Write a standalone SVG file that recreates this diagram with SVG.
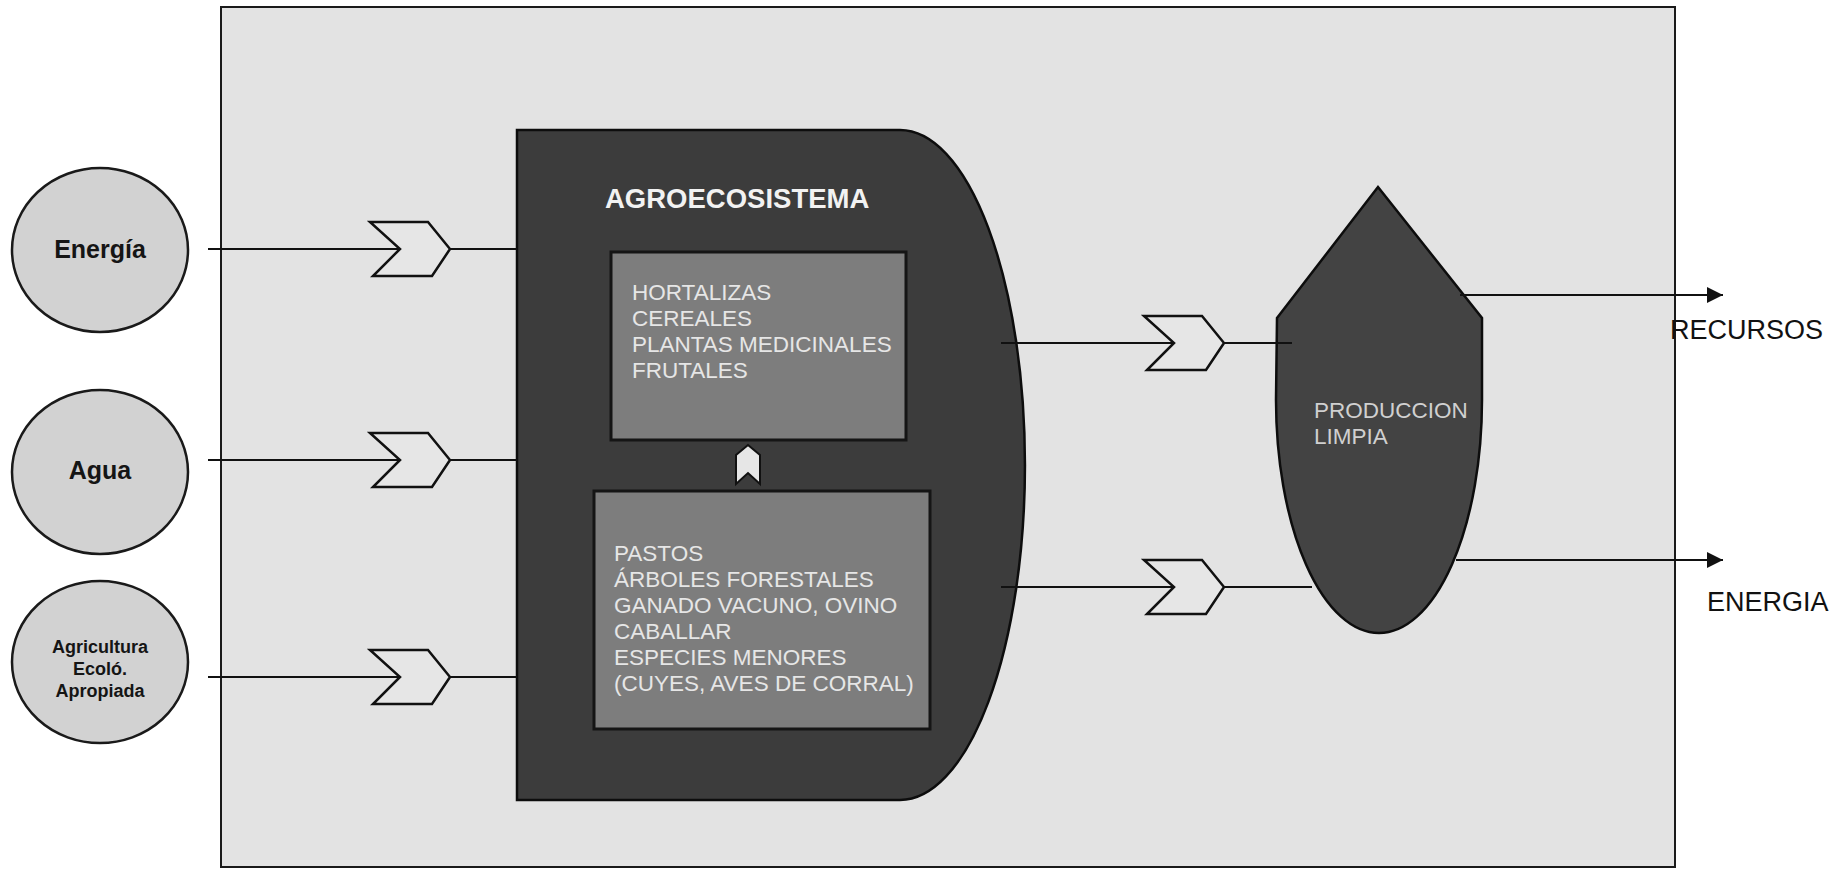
<svg xmlns="http://www.w3.org/2000/svg" width="1843" height="873" viewBox="0 0 1843 873">
<defs>
<style>
.frame{fill:#e3e3e3;stroke:#1a1a1a;stroke-width:2}
.src{fill:#d2d2d2;stroke:#1a1a1a;stroke-width:2.5}
.src-t{font-family:"Liberation Sans",Arial,sans-serif;font-weight:bold;fill:#151515;text-anchor:middle}
.dark{fill:#3c3c3c;stroke:#0d0d0d;stroke-width:2.5}
.box{fill:#7d7d7d;stroke:#151515;stroke-width:3}
.lt{font-family:"Liberation Sans",Arial,sans-serif;font-size:22.5px;fill:#e6e6e6}
.title{font-family:"Liberation Sans",Arial,sans-serif;font-size:27.5px;font-weight:bold;fill:#f2f2f2}
.out-t{font-family:"Liberation Sans",Arial,sans-serif;font-size:27px;fill:#111}
.ln{stroke:#111;stroke-width:2;fill:none}
.chev{fill:#e6e6e6;stroke:#111;stroke-width:2.5;stroke-linejoin:miter}
</style>
<polygon id="chev" class="chev" points="0,-27 58,-27 80,0 62,27 3,27 30,0"/>
<marker id="ah" viewBox="0 0 10 10" refX="10" refY="5" markerWidth="16" markerHeight="16" markerUnits="userSpaceOnUse" orient="auto">
<path d="M0,0 L10,5 L0,10 Z" fill="#111"/>
</marker>
</defs>
<rect x="0" y="0" width="1843" height="873" fill="#ffffff"/>
<rect id="frame" class="frame" x="221" y="7" width="1454" height="860"/>

<g id="agroecosistema">
<path class="dark" d="M517,130 L900,130 A125,335 0 0 1 900,800 L517,800 Z"/>
<text class="title" x="605" y="208">AGROECOSISTEMA</text>
</g>

<g id="cultivos">
<rect class="box" x="611" y="252" width="295" height="188"/>
<text class="lt" x="632" y="300">HORTALIZAS</text>
<text class="lt" x="632" y="326">CEREALES</text>
<text class="lt" x="632" y="352">PLANTAS MEDICINALES</text>
<text class="lt" x="632" y="378">FRUTALES</text>
</g>

<g id="animales">
<rect class="box" x="594" y="491" width="336" height="238"/>
<text class="lt" x="614" y="561">PASTOS</text>
<text class="lt" x="614" y="587">ÁRBOLES FORESTALES</text>
<text class="lt" x="614" y="613">GANADO VACUNO, OVINO</text>
<text class="lt" x="614" y="639">CABALLAR</text>
<text class="lt" x="614" y="665">ESPECIES MENORES</text>
<text class="lt" x="614" y="691">(CUYES, AVES DE CORRAL)</text>
</g>

<g id="produccion">
<path class="dark" d="M1277,318 L1378,187 L1482,318 L1482,400 A103,233 0 0 1 1276,400 Z" style="fill:#434343"/>
<text class="lt" x="1314" y="418" style="fill:#d0d0d0">PRODUCCION</text>
<text class="lt" x="1314" y="444" style="fill:#d0d0d0">LIMPIA</text>
</g>

<g id="energia">
<ellipse class="src" cx="100" cy="250" rx="88" ry="82"/>
<text class="src-t" x="100" y="258" font-size="25">Energía</text>
</g>
<g id="agua">
<ellipse class="src" cx="100" cy="472" rx="88" ry="82"/>
<text class="src-t" x="100" y="479" font-size="25">Agua</text>
</g>
<g id="agricultura">
<ellipse class="src" cx="100" cy="662" rx="88" ry="81"/>
<text class="src-t" x="100" y="653" font-size="18">Agricultura</text>
<text class="src-t" x="100" y="675" font-size="18">Ecoló.</text>
<text class="src-t" x="100" y="697" font-size="18">Apropiada</text>
</g>

<g id="connectors">
<line class="ln" x1="208" y1="249" x2="400" y2="249"/>
<line class="ln" x1="450" y1="249" x2="517" y2="249"/>
<use href="#chev" x="370" y="249"/>
<line class="ln" x1="208" y1="460" x2="400" y2="460"/>
<line class="ln" x1="450" y1="460" x2="517" y2="460"/>
<use href="#chev" x="370" y="460"/>
<line class="ln" x1="208" y1="677" x2="400" y2="677"/>
<line class="ln" x1="450" y1="677" x2="517" y2="677"/>
<use href="#chev" x="370" y="677"/>

<line class="ln" x1="1001" y1="343" x2="1174" y2="343"/>
<line class="ln" x1="1224" y1="343" x2="1292" y2="343"/>
<use href="#chev" x="1144" y="343"/>
<line class="ln" x1="1001" y1="587" x2="1174" y2="587"/>
<line class="ln" x1="1224" y1="587" x2="1312" y2="587"/>
<use href="#chev" x="1144" y="587"/>

<polygon class="chev" points="748,445 760,455 760,484 748,473 736,484 736,455" style="stroke-width:2"/>

<line class="ln" x1="1460" y1="295" x2="1723" y2="295" marker-end="url(#ah)"/>
<line class="ln" x1="1456" y1="560" x2="1723" y2="560" marker-end="url(#ah)"/>
</g>

<text class="out-t" x="1670" y="339">RECURSOS</text>
<text class="out-t" x="1707" y="611">ENERGIA</text>
</svg>
